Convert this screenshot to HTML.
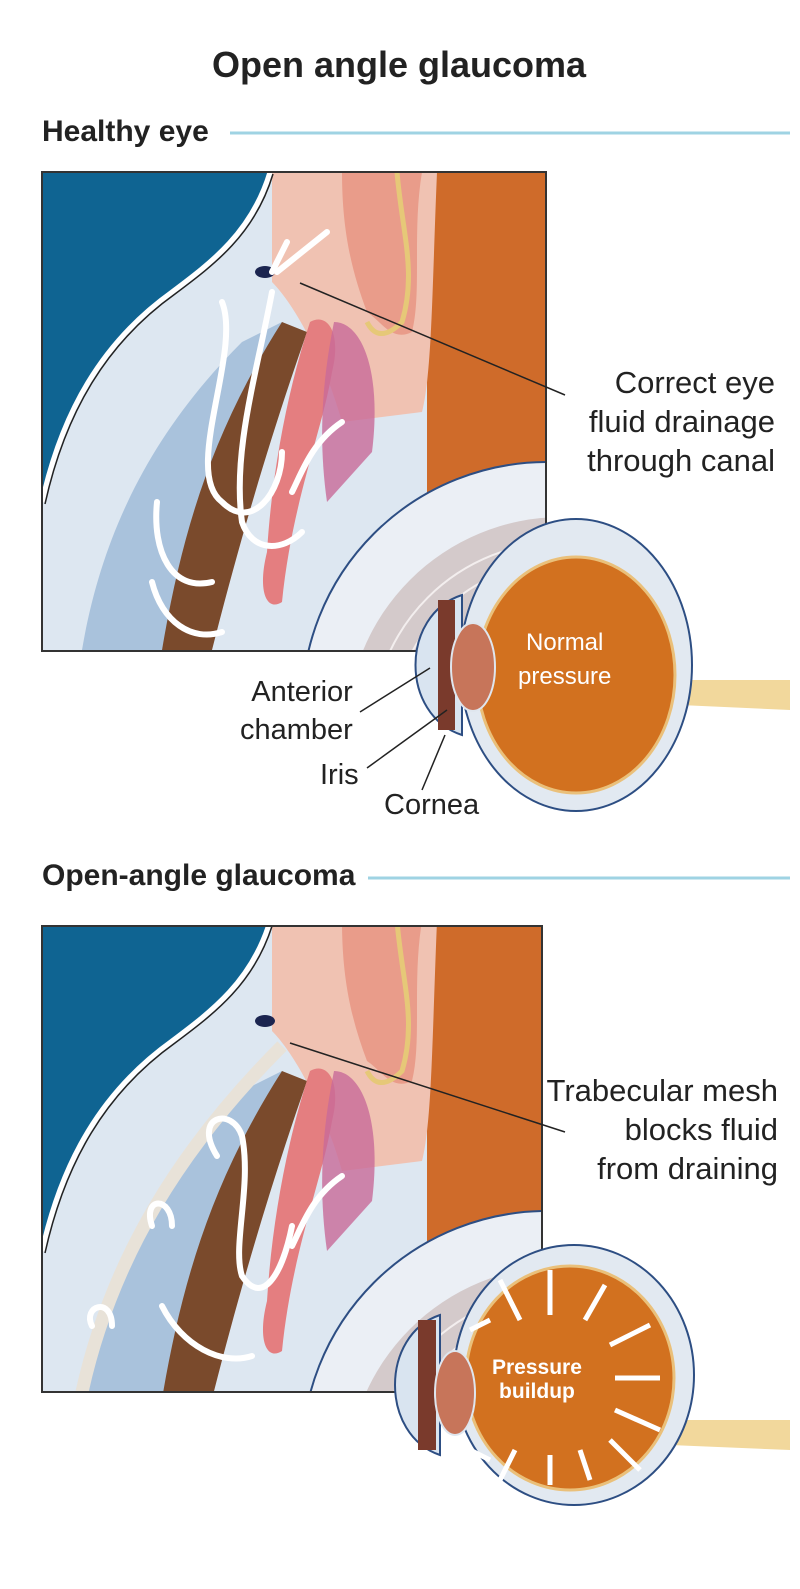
<!DOCTYPE html>
<html style="overflow:hidden;width:800px;height:1589px"><head><meta charset="utf-8"><style>
html,body{margin:0;padding:0;background:#fff}
body{width:800px;height:1589px;position:relative;overflow:hidden;font-family:"Liberation Sans",sans-serif;color:#222}
.t{position:absolute;white-space:nowrap}
</style></head><body>
<svg width="800" height="1589" style="position:absolute;left:0;top:0" xmlns="http://www.w3.org/2000/svg">
<defs>
<g id="panel">
  <rect x="0" y="0" width="504" height="478" fill="#dde7f1"/>
  <rect x="385" y="0" width="124" height="478" fill="#cf6b2a"/>
  <path d="M230 0 H395 C390 120 390 200 380 240 L300 250 C280 180 250 130 230 110 Z" fill="#f0c2b2"/>
  <path d="M300 0 H380 C370 60 380 120 370 160 C350 170 340 150 325 140 C310 100 300 60 300 0Z" fill="#e99c8a"/>
  <path d="M355 0 C360 60 375 100 360 150 C340 170 330 160 325 150" fill="none" stroke="#e6c878" stroke-width="5"/>
  <path d="M0 0 H228 C210 60 170 90 130 120 C60 170 20 240 0 330 Z" fill="#0f6492"/>
  <path d="M228 0 C210 60 170 90 130 120 C60 170 20 240 0 330" fill="none" stroke="#fff" stroke-width="5"/>
  <path d="M228 0 C210 60 170 90 130 120 C60 170 20 240 0 330" fill="none" stroke="#222" stroke-width="1.5" transform="translate(3,2)"/>
  <path d="M40 478 C60 360 110 260 200 170 L240 150 C200 230 150 330 120 478 Z" fill="#a9c2dc"/>
  <path d="M120 478 C140 360 170 260 240 150 L265 160 C230 260 200 360 170 478 Z" fill="#7a4a2c"/>
  <path d="M268 150 C285 140 300 160 290 200 C280 260 250 330 240 430 C225 440 215 420 225 380 C230 300 245 220 268 150Z" fill="#e47e80"/>
  <path d="M292 150 C320 150 340 200 330 280 L285 330 C275 260 282 200 292 150Z" fill="#c86a98" opacity=".8"/>
  <circle cx="505" cy="535" r="245" fill="#ebeff5" stroke="#2d4e83" stroke-width="2"/>
  <circle cx="520" cy="560" r="215" fill="#d4cacb"/>
  <circle cx="520" cy="560" r="190" fill="none" stroke="#f3eeee" stroke-width="2"/>
  <circle cx="520" cy="560" r="170" fill="none" stroke="#f3eeee" stroke-width="2"/>
  <ellipse cx="223" cy="100" rx="10" ry="6" fill="#1b2550"/>
</g>
</defs>
<svg x="42" y="172" width="504" height="479" overflow="hidden"><use href="#panel"/>
  <g fill="none" stroke="#fff" stroke-width="6" stroke-linecap="round">
    <path d="M180 130 C200 180 140 300 180 330 C210 360 240 320 240 280"/>
    <path d="M230 120 C215 200 190 280 200 350 C210 380 240 380 260 360"/>
    <path d="M115 330 C110 380 130 420 170 410"/>
    <path d="M110 410 C120 450 150 470 180 460"/>
    <path d="M300 250 C270 270 260 300 250 320"/>
    <path d="M230 100 L245 70 M235 100 L285 60"/>
  </g>
</svg>
<rect x="42" y="172" width="504" height="479" fill="none" stroke="#333" stroke-width="2"/>
<svg x="42" y="926" width="500" height="466" overflow="hidden"><use href="#panel" transform="translate(0,-5)"/>
  <path d="M40 466 C70 330 140 220 240 120" fill="none" stroke="#e8e2d8" stroke-width="13"/>
  <g fill="none" stroke="#fff" stroke-width="6" stroke-linecap="round">
    <path d="M175 230 C150 190 190 180 200 210 C210 260 190 320 200 350 C220 380 240 350 250 300"/>
    <path d="M110 300 C100 270 130 270 130 300"/>
    <path d="M50 400 C40 380 70 370 70 400"/>
    <path d="M120 380 C140 420 180 440 210 430"/>
    <path d="M300 250 C270 270 260 300 250 320"/>
  </g>
</svg>
<rect x="42" y="926" width="500" height="466" fill="none" stroke="#333" stroke-width="2"/>
<line x1="300" y1="283" x2="565" y2="395" stroke="#222" stroke-width="1.5"/>
<line x1="290" y1="1043" x2="565" y2="1132" stroke="#222" stroke-width="1.5"/>
<line x1="230" y1="133" x2="790" y2="133" stroke="#9fd3e3" stroke-width="3"/>
<line x1="368" y1="878" x2="790" y2="878" stroke="#9fd3e3" stroke-width="3"/>
<!-- eye 1 -->
<path d="M680 680 L790 680 L790 710 L680 705 Z" fill="#f2d89c"/>
<ellipse cx="576" cy="665" rx="116" ry="146" fill="#e2e9f1" stroke="#2d4e83" stroke-width="2"/>
<path d="M462 595 C400 615 400 715 462 735 Z" fill="#d9e4f0" stroke="#2d4e83" stroke-width="2"/>
<ellipse cx="576" cy="675" rx="99" ry="118" fill="#d2711f" stroke="#eac07a" stroke-width="3"/>
<path d="M438 600 L455 600 L455 730 L438 730 Z" fill="#7a3a2c"/>
<ellipse cx="473" cy="667" rx="22" ry="44" fill="#c7755a" stroke="#dfe6ee" stroke-width="2"/>
<line x1="360" y1="712" x2="430" y2="668" stroke="#222" stroke-width="1.5"/>
<line x1="367" y1="768" x2="447" y2="710" stroke="#222" stroke-width="1.5"/>
<line x1="422" y1="790" x2="445" y2="735" stroke="#222" stroke-width="1.5"/>
<!-- eye 2 -->
<path d="M670 1420 L790 1420 L790 1450 L670 1445 Z" fill="#f2d89c"/>
<ellipse cx="574" cy="1375" rx="120" ry="130" fill="#e2e9f1" stroke="#2d4e83" stroke-width="2"/>
<path d="M440 1315 C380 1335 380 1435 440 1455 Z" fill="#d9e4f0" stroke="#2d4e83" stroke-width="2"/>
<ellipse cx="570" cy="1378" rx="104" ry="112" fill="#d2711f" stroke="#eac07a" stroke-width="3"/>
<path d="M418 1320 L436 1320 L436 1450 L418 1450 Z" fill="#7a3a2c"/>
<ellipse cx="455" cy="1393" rx="20" ry="42" fill="#c7755a" stroke="#dfe6ee" stroke-width="2"/>
<g stroke="#fff" stroke-width="5" fill="#fff">
  <line x1="520" y1="1320" x2="500" y2="1280"/><line x1="550" y1="1315" x2="550" y2="1270"/>
  <line x1="585" y1="1320" x2="605" y2="1285"/><line x1="610" y1="1345" x2="650" y2="1325"/>
  <line x1="615" y1="1378" x2="660" y2="1378"/><line x1="615" y1="1410" x2="660" y2="1430"/>
  <line x1="610" y1="1440" x2="640" y2="1470"/><line x1="580" y1="1450" x2="590" y2="1480"/>
  <line x1="550" y1="1455" x2="550" y2="1485"/><line x1="515" y1="1450" x2="500" y2="1480"/>
  <line x1="470" y1="1330" x2="490" y2="1320"/><line x1="470" y1="1450" x2="490" y2="1460"/>
</g>
</svg>
<div class="t" style="left:212px;top:44px;font-size:36px;font-weight:bold">Open angle glaucoma</div>
<div class="t" style="left:42px;top:115px;font-size:30px;font-weight:bold">Healthy eye</div>
<div class="t" style="left:42px;top:859px;font-size:30px;font-weight:bold">Open-angle glaucoma</div>
<div class="t" style="right:25px;top:363px;font-size:31px;line-height:39px;text-align:right">Correct eye<br>fluid drainage<br>through canal</div>
<div class="t" style="right:22px;top:1071px;font-size:31px;line-height:39px;text-align:right">Trabecular mesh<br>blocks fluid<br>from draining</div>
<div class="t" style="left:240px;top:673px;font-size:29px;line-height:38px;text-align:right">Anterior<br>chamber</div>
<div class="t" style="left:320px;top:759px;font-size:29px">Iris</div>
<div class="t" style="left:384px;top:789px;font-size:29px">Cornea</div>
<div class="t" style="left:518px;top:626px;font-size:24px;line-height:34px;color:#fff;text-align:center">Normal<br>pressure</div>
<div class="t" style="left:492px;top:1356px;font-size:21px;line-height:24px;color:#fff;font-weight:bold;text-align:center">Pressure<br>buildup</div>
</body></html>
